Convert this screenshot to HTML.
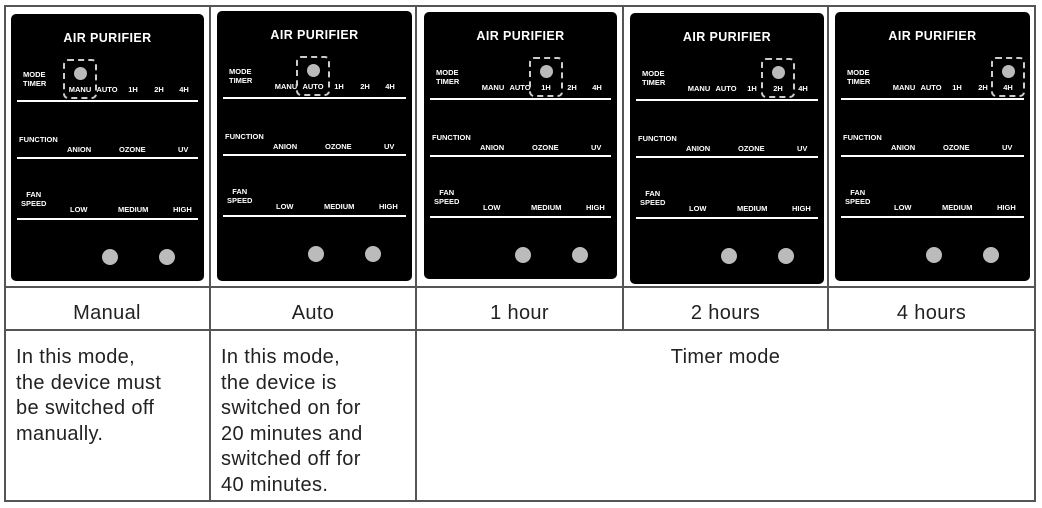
<!DOCTYPE html>
<html><head><meta charset="utf-8"><style>
body{margin:0;width:1042px;height:508px;background:#fff;position:relative;overflow:hidden;font-family:"Liberation Sans",sans-serif}
.ln{position:absolute;background:#555}
.p{position:absolute;background:#000;border-radius:5px;color:#fff;font-weight:bold}
.p div{position:absolute;white-space:nowrap}
.t{font-size:12.5px;letter-spacing:.4px;width:100%;text-align:center;top:17px}
.s{font-size:7.5px;line-height:9px}
.hl{height:2px;background:#fff;left:6px;right:6px}
.b{width:16px;height:16px;border-radius:50%;background:#bbb}
.dot{width:13px;height:13px;border-radius:50%;background:#bbb}
.box{border:2px dashed #ccc;border-radius:5px;width:30px;height:36px}
.tx{position:absolute;font-family:"Liberation Sans",sans-serif;font-size:20px;color:#222;line-height:25.6px;letter-spacing:.35px}
</style></head><body>
<div class="ln" style="left:4px;top:5px;width:1032px;height:2px"></div>
<div class="ln" style="left:4px;top:286px;width:1032px;height:2px"></div>
<div class="ln" style="left:4px;top:329px;width:1032px;height:2px"></div>
<div class="ln" style="left:4px;top:500px;width:1032px;height:2px"></div>
<div class="ln" style="left:4px;top:5px;width:2px;height:497px"></div>
<div class="ln" style="left:209px;top:5px;width:2px;height:497px"></div>
<div class="ln" style="left:415px;top:5px;width:2px;height:497px"></div>
<div class="ln" style="left:622px;top:5px;width:2px;height:326px"></div>
<div class="ln" style="left:827px;top:5px;width:2px;height:326px"></div>
<div class="ln" style="left:1034px;top:5px;width:2px;height:497px"></div>

<div class="tx" style="left:4px;width:206px;top:301px;text-align:center">Manual</div>
<div class="tx" style="left:210px;width:206px;top:301px;text-align:center">Auto</div>
<div class="tx" style="left:416px;width:207px;top:301px;text-align:center">1 hour</div>
<div class="tx" style="left:623px;width:205px;top:301px;text-align:center">2 hours</div>
<div class="tx" style="left:828px;width:207px;top:301px;text-align:center">4 hours</div>
<div class="tx" style="left:16px;top:345px">In this mode,<br>the device must<br>be switched off<br>manually.</div>
<div class="tx" style="left:221px;top:345px">In this mode,<br>the device is<br>switched on for<br>20 minutes and<br>switched off for<br>40 minutes.</div>
<div class="tx" style="left:416px;width:619px;top:345px;text-align:center">Timer mode</div>

<div id="panels"></div>
<script>
var P=[[11,14,193,267,0],[217,11,195,270,1],[424,12,193,267,2],[630,13,194,271,3],[835,12,195,269,4]];
var xs=[69,96,122,148,173],names=["MANU","AUTO","1H","2H","4H"];
var h="";
P.forEach(function(p){
 var i=p[4];
 h+='<div class="p" style="left:'+p[0]+'px;top:'+p[1]+'px;width:'+p[2]+'px;height:'+p[3]+'px">';
 h+='<div class="t">AIR PURIFIER</div>';
 h+='<div class="s" style="left:12px;top:56px">MODE<br>TIMER</div>';
 names.forEach(function(n,k){h+='<div class="s" style="left:'+(xs[k]-12)+'px;width:24px;text-align:center;top:71px">'+n+'</div>';});
 h+='<div class="box" style="left:'+(xs[i]-17)+'px;top:45px"></div>';
 h+='<div class="dot" style="left:'+(xs[i]-6)+'px;top:53px"></div>';
 h+='<div class="hl" style="top:86px"></div>';
 h+='<div class="s" style="left:8px;top:121px">FUNCTION</div>';
 h+='<div class="s" style="left:56px;top:131px">ANION</div><div class="s" style="left:108px;top:131px">OZONE</div><div class="s" style="left:167px;top:131px">UV</div>';
 h+='<div class="hl" style="top:143px"></div>';
 h+='<div class="s" style="left:10px;top:176px;text-align:center">FAN<br>SPEED</div>';
 h+='<div class="s" style="left:59px;top:191px">LOW</div><div class="s" style="left:107px;top:191px">MEDIUM</div><div class="s" style="left:162px;top:191px">HIGH</div>';
 h+='<div class="hl" style="top:204px"></div>';
 h+='<div class="b" style="left:91px;top:235px"></div><div class="b" style="left:148px;top:235px"></div>';
 h+='</div>';
});
document.getElementById("panels").innerHTML=h;
</script>
</body></html>
